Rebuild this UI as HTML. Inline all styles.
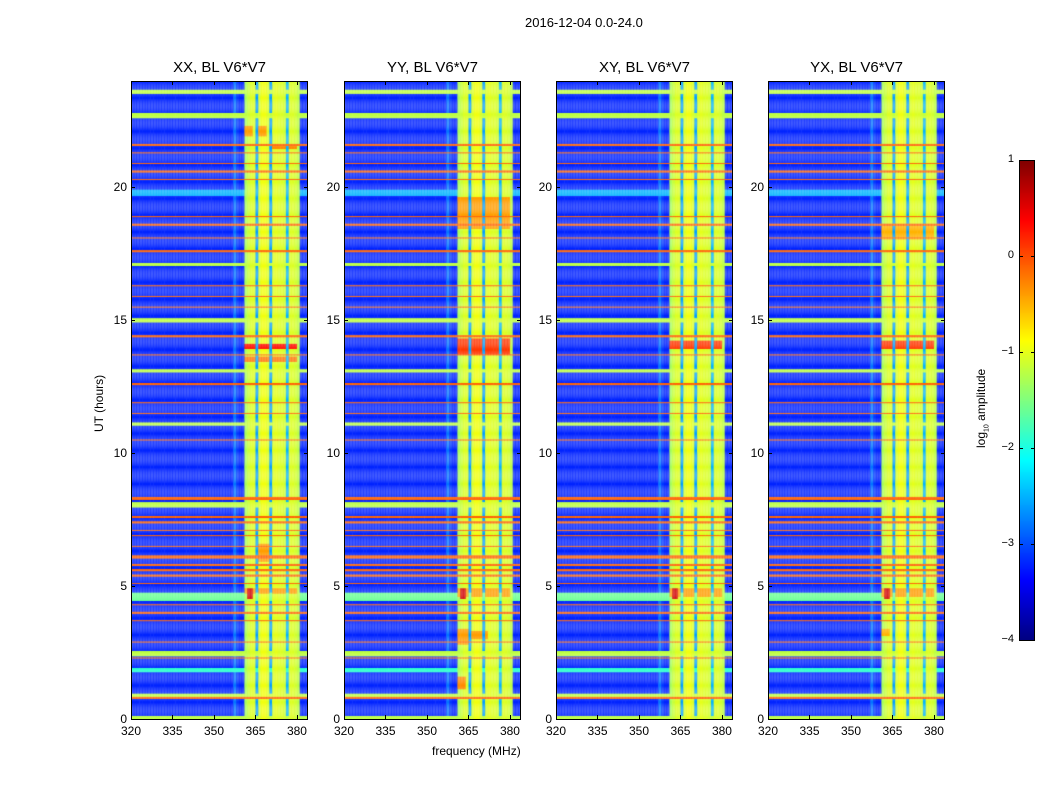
<!DOCTYPE html>
<html><head><meta charset="utf-8">
<style>
body{margin:0;background:#fff;font-family:"Liberation Sans",sans-serif;}
#wrap{position:relative;width:1050px;height:800px;overflow:hidden;}
.t{position:absolute;font-size:12px;color:#000;white-space:nowrap;}
.title{position:absolute;font-size:15px;text-align:center;width:177px;}
canvas{position:absolute;}
.frame{position:absolute;border:1px solid #000;box-sizing:border-box;}
.tk{position:absolute;background:#000;}
</style></head>
<body><div id="wrap">
<div class="t" style="left:525px;top:15px;font-size:13px">2016-12-04 0.0-24.0</div>
<div class="t" style="left:432px;top:744px;font-size:12px">frequency (MHz)</div>
<div class="t" style="left:92px;top:432px;transform:rotate(-90deg);transform-origin:0 0">UT (hours)</div>
<div class="t" style="left:974px;top:448px;transform:rotate(-90deg);transform-origin:0 0">log<sub style="font-size:7px">10</sub> amplitude</div>
</div>
<script>
const panelTitles=["XX, BL V6*V7","YY, BL V6*V7","XY, BL V6*V7","YX, BL V6*V7"];
const xTicks=[320,335,350,365,380];
const yTicks=[0,5,10,15,20];
const cbTicks=[1,0,-1,-2,-3,-4];
// frequency profile, 1 MHz bins from 320 to 383 (log10 amplitude)
const colLevels=[-3.2,-3.2,-3.2,-3.2,-3.2,-3.2,-3.2,-3.2,-3.2,-3.2,-3.2,-3.2,-3.2,-3.2,-3.2,-3.2,-3.2,-3.2,-3.2,-3.2,-3.2,-3.2,-3.2,-3.2,-3.2,-3.2,-3.2,-3.2,-3.2,-3.2,-3.2,-3.2,-3.2,-3.2,-3.2,-3.2,-3.2,-2.8,-3.1,-3.2,-3.2,
-1.3,-1.15,-1.05,-1.05,-2.6,-1.05,-0.95,-0.95,-1.05,-2.6,-1.05,-1.0,-1.05,-1.05,-1.1,-2.5,-1.05,-1.05,-1.1,-1.2,-3.2,-3.2,-3.2];
// horizontal bands: [hour, thickness (h), level]
const bandHours=[23.6,22.7,21.6,21.3,20.9,20.6,20.3,19.8,18.9,18.6,18.1,17.6,17.1,16.3,15.9,15.5,15.0,14.4,13.7,13.1,12.6,11.9,11.5,11.1,10.5,8.3,8.05,7.6,7.4,7.1,6.9,6.5,6.1,5.8,5.6,5.4,5.1,4.6,4.3,4.0,3.7,2.9,2.45,2.3,1.85,0.9,0.8,0.05];
const bandWidths=[0.15,0.2,0.04,0.04,0.04,0.04,0.04,0.2,0.04,0.04,0.04,0.04,0.15,0.04,0.04,0.04,0.12,0.04,0.04,0.15,0.04,0.04,0.04,0.12,0.04,0.08,0.2,0.04,0.04,0.04,0.04,0.04,0.1,0.04,0.04,0.04,0.04,0.3,0.04,0.06,0.04,0.04,0.2,0.04,0.15,0.15,0.04,0.1];
const bandLevels=[-1.2,-1.2,-0.1,-0.1,-0.1,-0.1,-0.1,-2.5,-0.1,-0.1,-0.1,-0.1,-1.2,-0.1,-0.1,-0.1,-1.2,-0.1,-0.1,-1.2,-0.1,-0.1,-0.1,-1.2,-0.1,-0.1,-1.2,-0.1,-0.1,-0.1,-0.1,-0.1,-0.1,-0.1,-0.1,-0.1,-0.1,-1.6,-0.1,-0.1,-0.1,-0.1,-1.2,-0.1,-1.9,-1.2,-0.1,-1.2];
// orange blocks in the bright region: [freq0, freq1, hour0, hour1, level] per panel
const blocksP1=[[361,364,21.9,22.3,-0.4],[365,369,21.9,22.3,-0.4],[370,380,21.4,21.6,-0.3],[361,380,13.9,14.1,0.3],[361,380,13.4,13.6,-0.2],[366,370,5.9,6.6,-0.4],[361,380,4.7,4.9,-0.4],[362,364,4.5,4.9,0.6]];
const blocksP2=[[361,380,13.7,14.3,0.1],[361,380,18.4,19.6,-0.4],[361,365,2.8,3.4,-0.4],[366,372,3.0,3.3,-0.4],[361,364,1.1,1.6,-0.3],[361,380,4.6,4.9,-0.4],[362,364,4.5,4.9,0.6]];
const blocksP3=[[361,380,13.9,14.2,0.1],[361,380,4.6,4.9,-0.4],[362,364,4.5,4.9,0.6]];
const blocksP4=[[361,380,13.9,14.2,0.1],[361,380,18.0,18.6,-0.5],[361,364,3.1,3.4,-0.5],[361,380,4.6,4.9,-0.4],[362,364,4.5,4.9,0.6]];
const blocksAll=[blocksP1,blocksP2,blocksP3,blocksP4];

const lefts=[131,344,556,768], TOP=81, W=177, H=638, F0=320, F1=384, T1=24;
const xs=f=>(f-F0)/(F1-F0)*W, ys=h=>H-h/T1*H;
function jet(v){let t=Math.max(0,Math.min(1,(v+4)/5));const c=x=>Math.round(255*Math.max(0,Math.min(1,1.5-Math.abs(x))));return `rgb(${c(4*t-3)},${c(4*t-2)},${c(4*t-1)})`;}
const wrap=document.getElementById('wrap');
function add(tag,cls,style,name,txt){const e=document.createElement(tag);if(cls)e.className=cls;e.style.cssText=style;if(txt!==undefined)e.textContent=txt;wrap.appendChild(e);return e;}
lefts.forEach((L,p)=>{
  const cv=document.createElement('canvas');cv.width=W;cv.height=H;cv.style.left=L+'px';cv.style.top=TOP+'px';
  
  
  wrap.appendChild(cv);const g=cv.getContext('2d');
  const dh=0.04;
  for(let h=0;h<T1;h+=dh){
    for(let i=0;i<colLevels.length;i++){
      const f=F0+i;let v=colLevels[i];
      for(let b=0;b<bandHours.length;b++){if(Math.abs(h+dh/2-bandHours[b])<=bandWidths[b]/2+0.001)v=Math.max(v,bandLevels[b]);}
      for(const bk of blocksAll[p]){if(f>=bk[0]&&f<bk[1]&&h>=bk[2]&&h<bk[3]&&colLevels[i]>-2)v=Math.max(v,bk[4]);}
      g.fillStyle=jet(v);const x0=xs(f),x1=xs(f+1),y0=ys(h+dh),y1=ys(h);
      g.fillRect(x0,y0,x1-x0+0.5,y1-y0);
    }
  }
  const fr=add('div','frame',`left:${L}px;top:${TOP}px;width:${W}px;height:${H+1}px`);
  
  
  const tt=add('div','title',`left:${L}px;top:59px`,null,panelTitles[p]);
  
  
  xTicks.forEach(f=>{const x=L+xs(f);
    add('div','tk',`left:${x}px;top:${TOP+H-4}px;width:1px;height:4px`);
    add('div','tk',`left:${x}px;top:${TOP}px;width:1px;height:4px`);
    const l=add('div','t',`left:${x-10}px;top:${TOP+H+5}px;width:20px;text-align:center`,null,String(f));
    
    });
  yTicks.forEach(h=>{const y=TOP+ys(h);
    add('div','tk',`left:${L}px;top:${y}px;width:4px;height:1px`);
    add('div','tk',`left:${L+W-4}px;top:${y}px;width:4px;height:1px`);
    const l=add('div','t',`left:${L-30}px;top:${y-7}px;width:26px;text-align:right`,null,String(h));
    
    });
});
// colorbar
const cb=document.createElement('canvas');cb.width=15;cb.height=480;cb.style.left='1019px';cb.style.top='160px';


wrap.appendChild(cb);const cg=cb.getContext('2d');
for(let y=0;y<480;y++){cg.fillStyle=jet(1-5*y/480);cg.fillRect(0,y,15,1);}
const cf=add('div','frame','left:1019px;top:160px;width:16px;height:481px');


cbTicks.forEach(v=>{const y=160+(1-v)/5*480;
  add('div','tk',`left:1019px;top:${y}px;width:4px;height:1px`);
  add('div','tk',`left:1031px;top:${y}px;width:4px;height:1px`);
  const l=add('div','t',`left:990px;top:${y-7}px;width:24px;text-align:right;font-size:11px`,null,v<0?'\u2212'+(-v):String(v));
  
  });
</script>
</body></html>
